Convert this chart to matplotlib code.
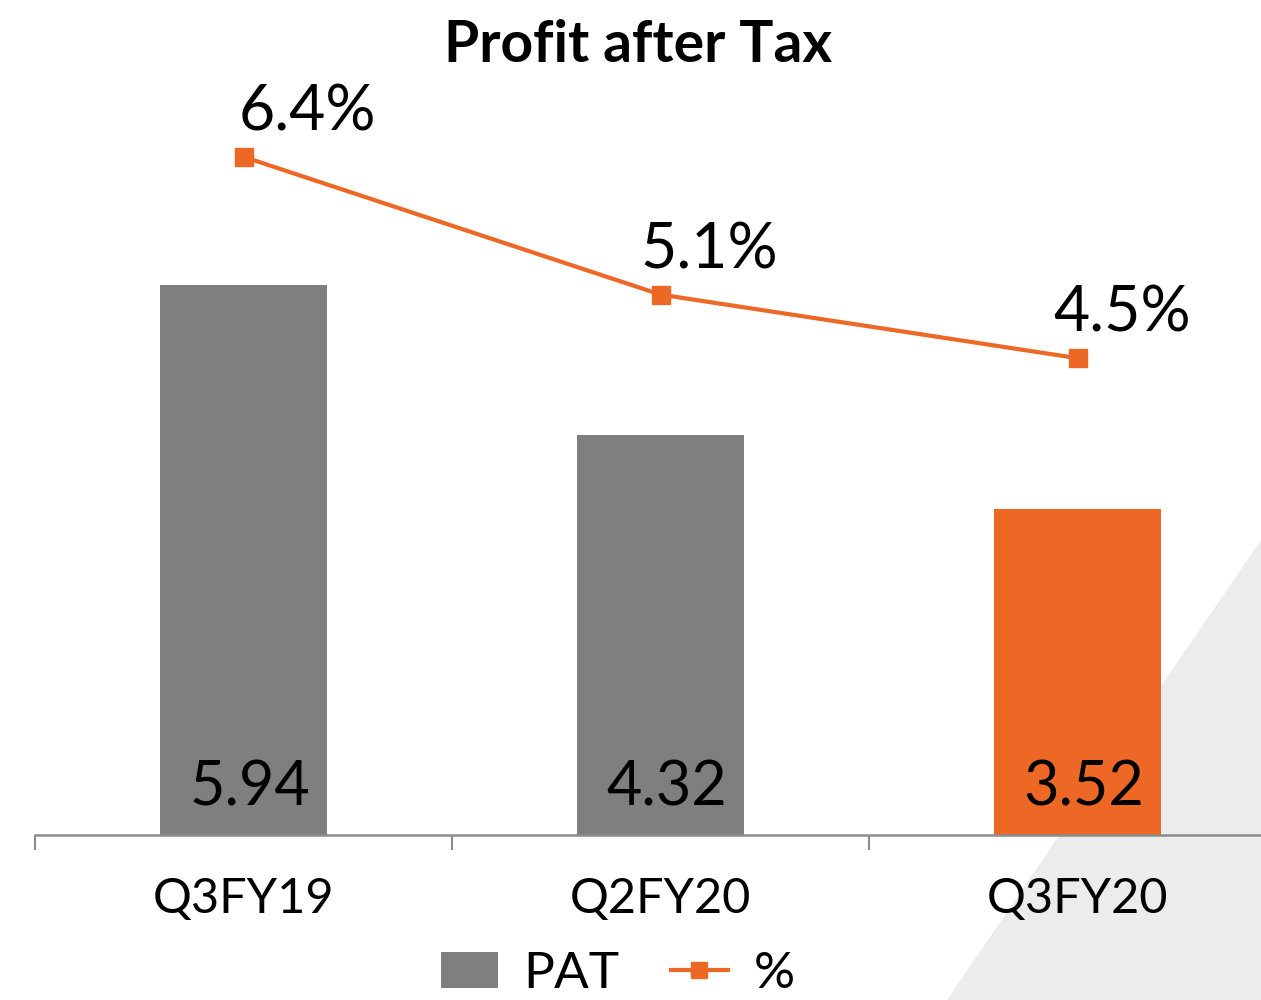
import matplotlib.pyplot as plt
from matplotlib.patches import Polygon
from matplotlib.lines import Line2D
from matplotlib.patches import Patch

plt.rcParams['font.family'] = ['Lato', 'DejaVu Sans']

# data
quarters = ["Q3FY19", "Q2FY20", "Q3FY20"]
pat = [5.94, 4.32, 3.52]
pat_pct = [6.4, 5.1, 4.5]
pat_labels = ["5.94", "4.32", "3.52"]
pct_labels = ["6.4%", "5.1%", "4.5%"]

grey = "#7f7f7f"
orange = "#ed6725"
bar_colors = [grey, grey, orange]

fig = plt.figure(figsize=(12.61, 10), dpi=100)

# light grey triangle in the background (bottom right)
tri = Polygon([[947 / 1261, 0], [1, 460 / 1000], [1, 0]], closed=True,
              transform=fig.transFigure, facecolor="#ececec", edgecolor="none", zorder=-5)
fig.patches.append(tri)

# axes spans past the right edge like the original slide
ax = fig.add_axes([35 / 1261, 0.165, 1251 / 1261, 0.835])
ax.set_facecolor("none")
x = range(len(quarters))
ax.bar(x, pat, width=0.4, color=bar_colors, zorder=2)
ax.set_xlim(-0.5, 2.5)
ax.set_ylim(0, 9.02)

for i, lab in enumerate(pat_labels):
    ax.text(i + 0.015, 0.2, lab, ha="center", va="bottom", fontsize=44, color="black", zorder=3)

ax.set_xticks(list(x))
ax.set_xticklabels(quarters, fontsize=35)
ax.tick_params(axis="x", which="major", length=0, pad=30)
ax.set_xticks([-0.5, 0.5, 1.5], minor=True)
ax.tick_params(axis="x", which="minor", length=11, width=1.5, color="#8c8c8c", direction="out")
ax.set_yticks([])
for s in ["top", "right", "left"]:
    ax.spines[s].set_visible(False)
ax.spines["bottom"].set_color("#8c8c8c")
ax.spines["bottom"].set_linewidth(1.8)

ax2 = ax.twinx()
ax2.set_ylim(0, 7.88)
ax2.plot(x, pat_pct, color=orange, lw=3, marker="s", markersize=13, zorder=4)
label_dx = [46, 35, 32]
for i, lab in enumerate(pct_labels):
    ax2.annotate(lab, (i, pat_pct[i]), xytext=(label_dx[i], 11), textcoords="offset points",
                 ha="center", va="bottom", fontsize=45, color="black")
ax2.set_yticks([])
for s in ax2.spines.values():
    s.set_visible(False)

fig.text(638 / 1261, 1 - 45 / 1000, "Profit after Tax", ha="center", va="center",
         fontsize=41, fontweight="bold")

handles = [Patch(facecolor=grey, edgecolor="none"),
           Line2D([0], [0], color=orange, lw=3, marker="s", markersize=11)]
fig.legend(handles, ["PAT", "%"], loc="center", bbox_to_anchor=(618 / 1261, 1 - 974 / 1000),
           ncol=2, frameon=False, fontsize=37, handlelength=1.1, handletextpad=0.5,
           columnspacing=1.0, handleheight=0.7)

fig.savefig("out.png", dpi=100)
